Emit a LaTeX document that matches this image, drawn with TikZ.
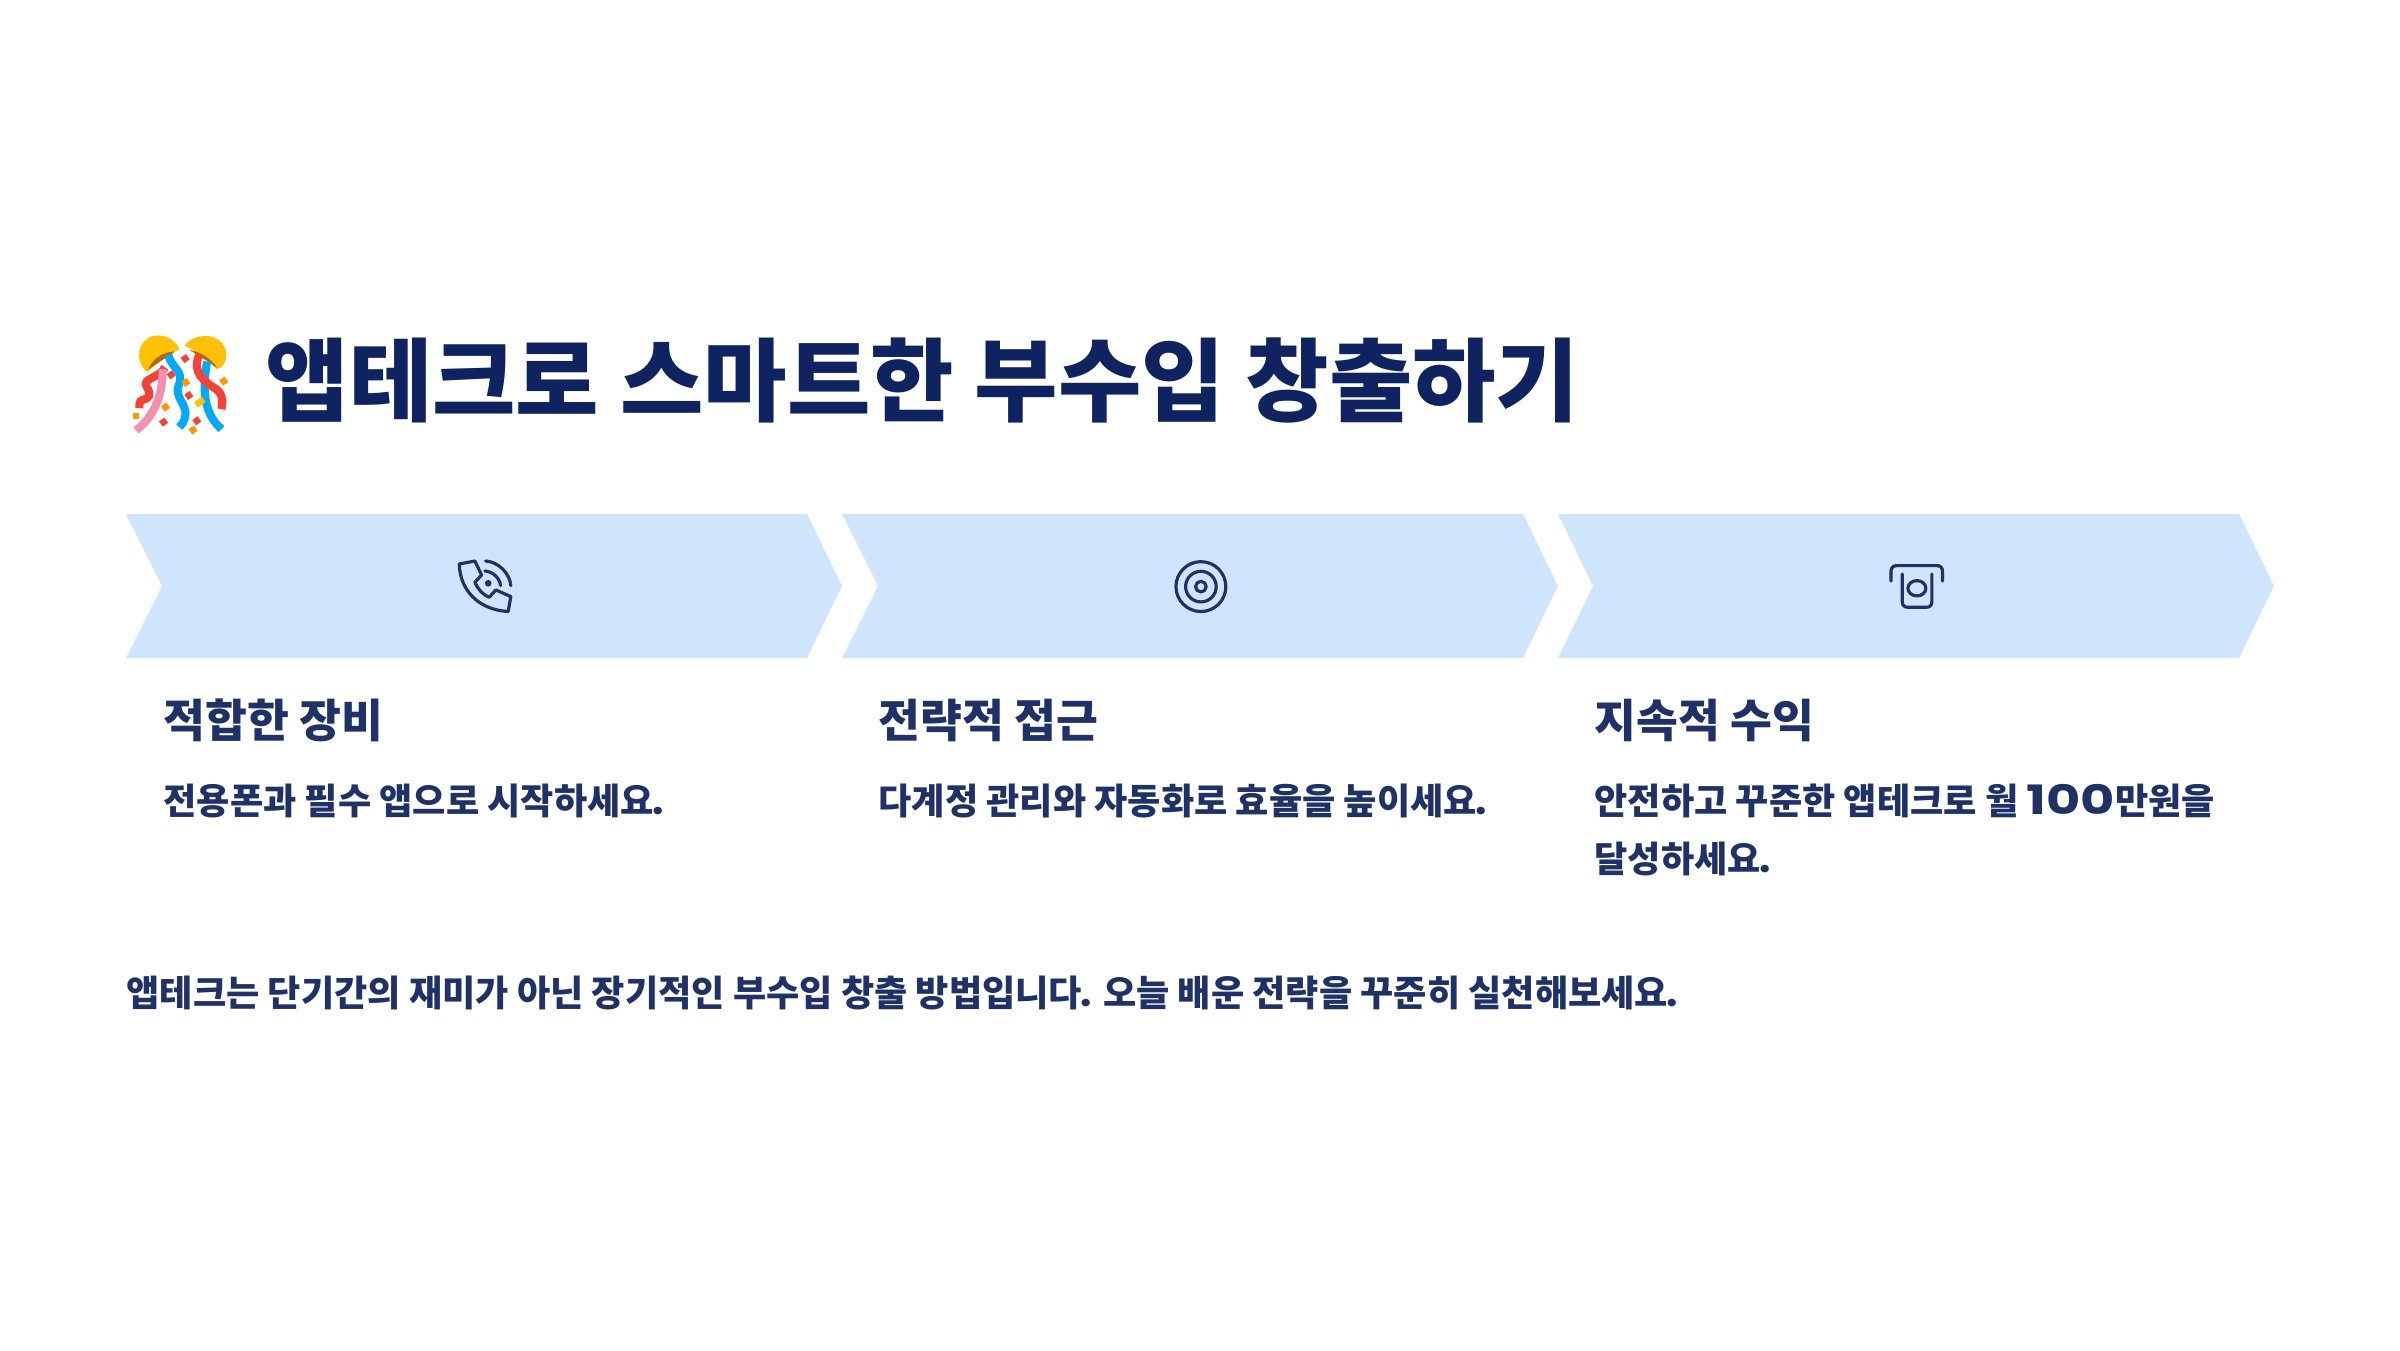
\documentclass[tikz,border=0pt]{standalone}
\usepackage{fontspec}
\setmainfont{Noto Sans CJK KR}
\newfontfamily\numfont[Scale=1.12]{Poppins}
\newfontfamily\widefont[FakeStretch=1.3,Scale=1.12]{Poppins}
\newcommand{\dotmark}{\kern-0.4pt{\numfont .}}
\usetikzlibrary{positioning}

\definecolor{navy}{HTML}{0F2360}
\definecolor{inkblue}{HTML}{1F3166}
\definecolor{paleblue}{HTML}{CFE4FD}
\definecolor{domeyellow}{HTML}{FFC107}
\definecolor{domebrown}{HTML}{B36B00}
\definecolor{ribbonred}{HTML}{F44336}
\definecolor{ribbonblue}{HTML}{03A9F4}
\definecolor{ribbonpink}{HTML}{F48FB1}
\definecolor{bitorange}{HTML}{FF9800}

\begin{document}
\begin{tikzpicture}[
  font=\bfseries,
  titletext/.style={anchor=west, inner sep=0pt, text=navy, font=\bfseries\fontsize{25.8}{30}\selectfont},
  headtext/.style={anchor=west, inner sep=0pt, text=inkblue, font=\bfseries\fontsize{12.95}{16}\selectfont},
  desctext/.style={anchor=north west, inner sep=0pt, align=left, text=inkblue, font=\bfseries\fontsize{10.28}{16.6}\selectfont},
  chevron/.style={fill=paleblue},
  icon/.style={draw=inkblue, line width=0.9pt, line cap=round, line join=round},
  streamer/.style={line width=2.3pt, line cap=butt},
  confetti/.style={rectangle, inner sep=0pt, minimum size=0.065cm, rotate=35}
]
\useasboundingbox (0,0) rectangle (24,-13.5);
\fill[white] (0,0) rectangle (24,-13.5);

% emoji, in pixels of the crop
\begin{scope}[shift={(1.10,-3.10)}, x=0.00333cm, y=-0.00333cm]
  \draw[streamer, draw=ribbonred] (165,172) .. controls (150,205) and (95,205) .. (110,230) .. controls (125,255) and (120,265) .. (98,270) .. controls (85,275) and (90,285) .. (88,295);
  \draw[streamer, draw=ribbonpink] (158,178) .. controls (160,250) and (135,320) .. (78,362);
  \fill[domeyellow] (112,187) .. controls (70,150) and (85,90) .. (130,78) .. controls (170,70) and (200,95) .. (209,118) .. controls (175,135) and (140,160) .. (112,187) -- cycle;
  \fill[domeyellow] (224,107) .. controls (245,75) and (310,65) .. (338,100) .. controls (360,130) and (350,170) .. (322,178) .. controls (295,150) and (255,120) .. (224,107) -- cycle;
  \fill[domebrown] (115,180) .. controls (130,140) and (165,125) .. (195,125) .. controls (175,140) and (140,160) .. (115,180) -- cycle;
  \fill[domebrown] (238,120) .. controls (270,125) and (305,145) .. (322,175) .. controls (295,155) and (265,135) .. (238,120) -- cycle;
  \draw[streamer, draw=ribbonblue] (175,135) .. controls (185,175) and (225,185) .. (207,225) .. controls (190,260) and (235,285) .. (226,320) .. controls (222,340) and (215,345) .. (208,352);
  \draw[streamer, draw=ribbonblue] (292,155) .. controls (280,225) and (275,305) .. (335,358);
  \draw[streamer, draw=ribbonred] (268,135) .. controls (245,190) and (285,215) .. (315,235) .. controls (340,250) and (340,275) .. (335,298);
  \node[confetti, fill=ribbonred] (conA) at (226,146) {};
  \node[confetti, fill=ribbonred] (conB) at (184,195) {};
  \node[confetti, fill=bitorange] (conC) at (228,218) {};
  \node[confetti, fill=bitorange] (conD) at (342,214) {};
  \node[confetti, fill=ribbonred] (conE) at (237,257) {};
  \node[confetti, fill=domeyellow, minimum width=0.095cm] (conF) at (270,277) {};
  \node[confetti, fill=bitorange] (conG) at (167,292) {};
  \node[confetti, fill=bitorange, rotate=-35] (conH) at (78,319) {};
  \node[confetti, fill=ribbonred] (conI) at (161,337) {};
  \node[confetti, fill=ribbonred] (conJ) at (261,333) {};
  \node[confetti, fill=bitorange] (conK) at (250,361) {};
\end{scope}

\node[titletext] (title) at (2.65,-3.80) {앱테크로 스마트한 부수입 창출하기};

% chevrons
\fill[chevron] (1.26,-5.14) -- (8.07,-5.14) -- (8.42,-5.86) -- (8.07,-6.58) -- (1.26,-6.58) -- (1.62,-5.86) -- cycle;
\fill[chevron] (8.42,-5.14) -- (15.23,-5.14) -- (15.58,-5.86) -- (15.23,-6.58) -- (8.42,-6.58) -- (8.78,-5.86) -- cycle;
\fill[chevron] (15.58,-5.14) -- (22.39,-5.14) -- (22.74,-5.86) -- (22.39,-6.58) -- (15.58,-6.58) -- (15.93,-5.86) -- cycle;

% phone
\begin{scope}[shift={(4.30,-5.50)}, x=0.00333cm, y=-0.00333cm]
  \draw[icon] (88,42) -- (135,33) -- (155,75) -- (135,97) .. controls (145,120) and (160,135) .. (178,142) -- (198,120) -- (243,140) -- (235,185) .. controls (150,180) and (90,125) .. (88,42) -- cycle;
  \draw[icon] (167,33) .. controls (205,35) and (240,70) .. (243,107);
  \draw[icon] (165,63) .. controls (190,65) and (210,85) .. (212,107);
  \fill[inkblue] (175,100) circle (10);
\end{scope}

% target
\begin{scope}[shift={(11.50,-5.50)}, x=0.00333cm, y=-0.00333cm]
  \draw[icon] (153,110) circle (75);
  \draw[icon] (153,110) circle (46);
  \draw[icon] (153,110) circle (16);
\end{scope}

% cash slot
\begin{scope}[shift={(18.60,-5.50)}, x=0.00333cm, y=-0.00333cm]
  \draw[icon] (93,93) -- (93,65) .. controls (93,53) and (100,47) .. (110,47) -- (232,47) .. controls (242,47) and (248,53) .. (248,65) -- (248,93);
  \draw[icon] (127,72) -- (127,155) .. controls (127,166) and (133,172) .. (143,172) -- (200,172) .. controls (210,172) and (216,166) .. (216,155) -- (216,72);
  \draw[icon] (171,115) ellipse (27 and 23);
\end{scope}

\node[headtext] (headA) at (1.63,-7.205) {적합한 장비};
\node[desctext] (descA) at (1.63,-7.83) {전용폰과 필수 앱으로 시작하세요\dotmark};

\node[headtext] (headB) at (8.78,-7.205) {전략적 접근};
\node[desctext] (descB) at (8.78,-7.83) {다계정 관리와 자동화로 효율을 높이세요\dotmark};

\node[headtext] (headC) at (15.94,-7.205) {지속적 수익};
\node[desctext] (descC) at (15.94,-7.83) {안전하고 꾸준한 앱테크로 월 {\widefont 100}만원을\\달성하세요\dotmark};

\node[desctext] (closing) at (1.26,-9.75) {앱테크는 단기간의 재미가 아닌 장기적인 부수입 창출 방법입니다\dotmark{} 오늘 배운 전략을 꾸준히 실천해보세요\dotmark};

\end{tikzpicture}
\end{document}
